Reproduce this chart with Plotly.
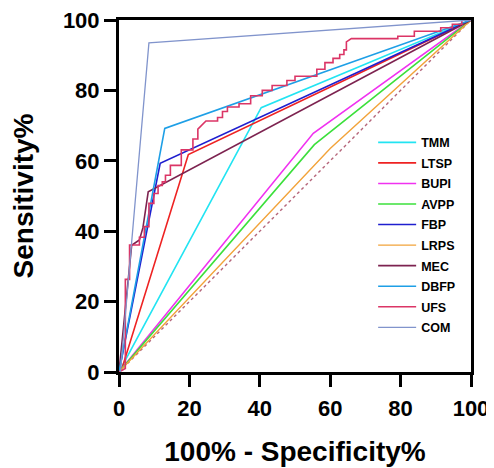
import plotly.graph_objects as go

# ROC curve data: 100% - Specificity% (x) vs Sensitivity% (y)
tmm_x = [0, 40.4, 100]
tmm_y = [0, 75.1, 100]

ltsp_x = [0, 1, 19.7, 100]
ltsp_y = [0, 1.5, 61.8, 100]

bupi_x = [0, 55.2, 100]
bupi_y = [0, 67.8, 100]

avpp_x = [0, 55.5, 100]
avpp_y = [0, 64.6, 100]

fbp_x = [0, 11.7, 100]
fbp_y = [0, 59.3, 100]

lrps_x = [0, 60, 100]
lrps_y = [0, 63.5, 100]

mec_x = [0, 3.6, 5.8, 6.8, 8.3, 100]
mec_y = [0, 36.0, 37.5, 41.0, 51.2, 100]

dbfp_x = [0, 13.0, 100]
dbfp_y = [0, 69.2, 100]

ufs_x = [0, 1.8, 1.8, 3.0, 3.0, 5.8, 5.8, 7.2, 7.2, 8.5, 8.5, 9.9, 9.9, 11.1, 11.1,
         12.3, 12.3, 13.2, 13.2, 14.6, 14.6, 17.7, 17.7, 21.0, 21.0, 22.4, 22.4, 24.7,
         28.0, 28.0, 29.4, 29.4, 30.8, 30.8, 34.1, 34.1, 37.4, 37.4, 40.7, 40.7, 43.5,
         43.5, 47.7, 47.7, 50.0, 50.0, 56.2, 56.2, 58.5, 58.5, 60.8, 60.8, 62.7, 62.7,
         63.9, 63.9, 64.6, 64.6, 66.0, 79.2, 79.2, 83.9, 83.9, 91.4, 91.4, 94.7, 94.7,
         97.4, 97.4, 100]
ufs_y = [0, 1.0, 26.3, 26.3, 36.1, 36.1, 38.3, 38.3, 41.3, 41.3, 47.9, 47.9, 50.7, 50.7,
         53.0, 53.0, 54.0, 54.0, 55.9, 55.9, 58.7, 58.7, 63.1, 63.1, 66.2, 66.2, 69.0,
         71.3, 71.3, 72.3, 72.3, 74.0, 74.0, 75.3, 75.3, 76.2, 76.2, 78.5, 78.5, 80.0,
         80.0, 81.4, 81.4, 82.8, 82.8, 84.0, 84.0, 86.0, 86.0, 87.9, 87.9, 89.1, 89.1,
         90.2, 90.2, 91.5, 91.5, 93.8, 94.7, 94.7, 95.4, 95.4, 96.8, 96.8, 97.8, 97.8,
         98.8, 98.8, 100, 100]

com_x = [0.4, 8.5, 100]
com_y = [0, 93.5, 100]

ref_x = [0, 100]
ref_y = [0, 100]

tick_vals = [0, 20, 40, 60, 80, 100]

series = [
    ("TMM", tmm_x, tmm_y, "#22E4F2", 1.6),
    ("LTSP", ltsp_x, ltsp_y, "#EE2222", 1.6),
    ("BUPI", bupi_x, bupi_y, "#F032F0", 1.6),
    ("AVPP", avpp_x, avpp_y, "#3BE03B", 1.6),
    ("FBP", fbp_x, fbp_y, "#1F1FCF", 1.6),
    ("LRPS", lrps_x, lrps_y, "#F2A33A", 1.4),
    ("MEC", mec_x, mec_y, "#7D2350", 1.6),
    ("DBFP", dbfp_x, dbfp_y, "#1E9FE6", 1.6),
    ("UFS", ufs_x, ufs_y, "#DB3566", 1.6),
    ("COM", com_x, com_y, "#8194CC", 1.3),
]

fig = go.Figure()
fig.add_trace(go.Scatter(x=ref_x, y=ref_y, mode="lines", showlegend=False,
                         line=dict(color="#B5657A", width=1.4, dash="dot"),
                         hoverinfo="skip"))
for name, xs, ys, color, w in series:
    fig.add_trace(go.Scatter(x=xs, y=ys, mode="lines", name=name, legendgroup=name,
                             line=dict(color=color, width=w)))

font_family = "Arial, Liberation Sans, sans-serif"
fig.update_layout(
    width=486, height=460,
    margin=dict(l=111, r=23, t=12, b=96),
    paper_bgcolor="white", plot_bgcolor="white",
    font=dict(family=font_family, color="black"),
    legend=dict(x=0.722, y=0.694, xanchor="left", yanchor="top",
                font=dict(size=12.5, family=font_family, weight="bold"),
                itemwidth=38, tracegroupgap=1.3, bgcolor="rgba(0,0,0,0)",
                traceorder="grouped"),
    showlegend=True,
)
axis_common = dict(
    range=[0, 100], tickvals=tick_vals, ticktext=[str(v) for v in tick_vals],
    showgrid=False, zeroline=False, automargin=False,
    showline=True, linecolor="black", linewidth=3, mirror=True,
    ticks="outside", ticklen=12, tickwidth=3, tickcolor="black",
    ticklabeloverflow="allow",
    tickfont=dict(size=22, family=font_family, weight="bold"),
)
fig.update_xaxes(**axis_common, ticklabelstandoff=3,
                 title=dict(text="100% - Specificity%", standoff=21,
                            font=dict(size=28, family=font_family, weight="bold")))
fig.update_yaxes(**axis_common,
                 title=dict(text="Sensitivity%", standoff=26,
                            font=dict(size=28, family=font_family, weight="bold")))

fig.write_html("out.html")
